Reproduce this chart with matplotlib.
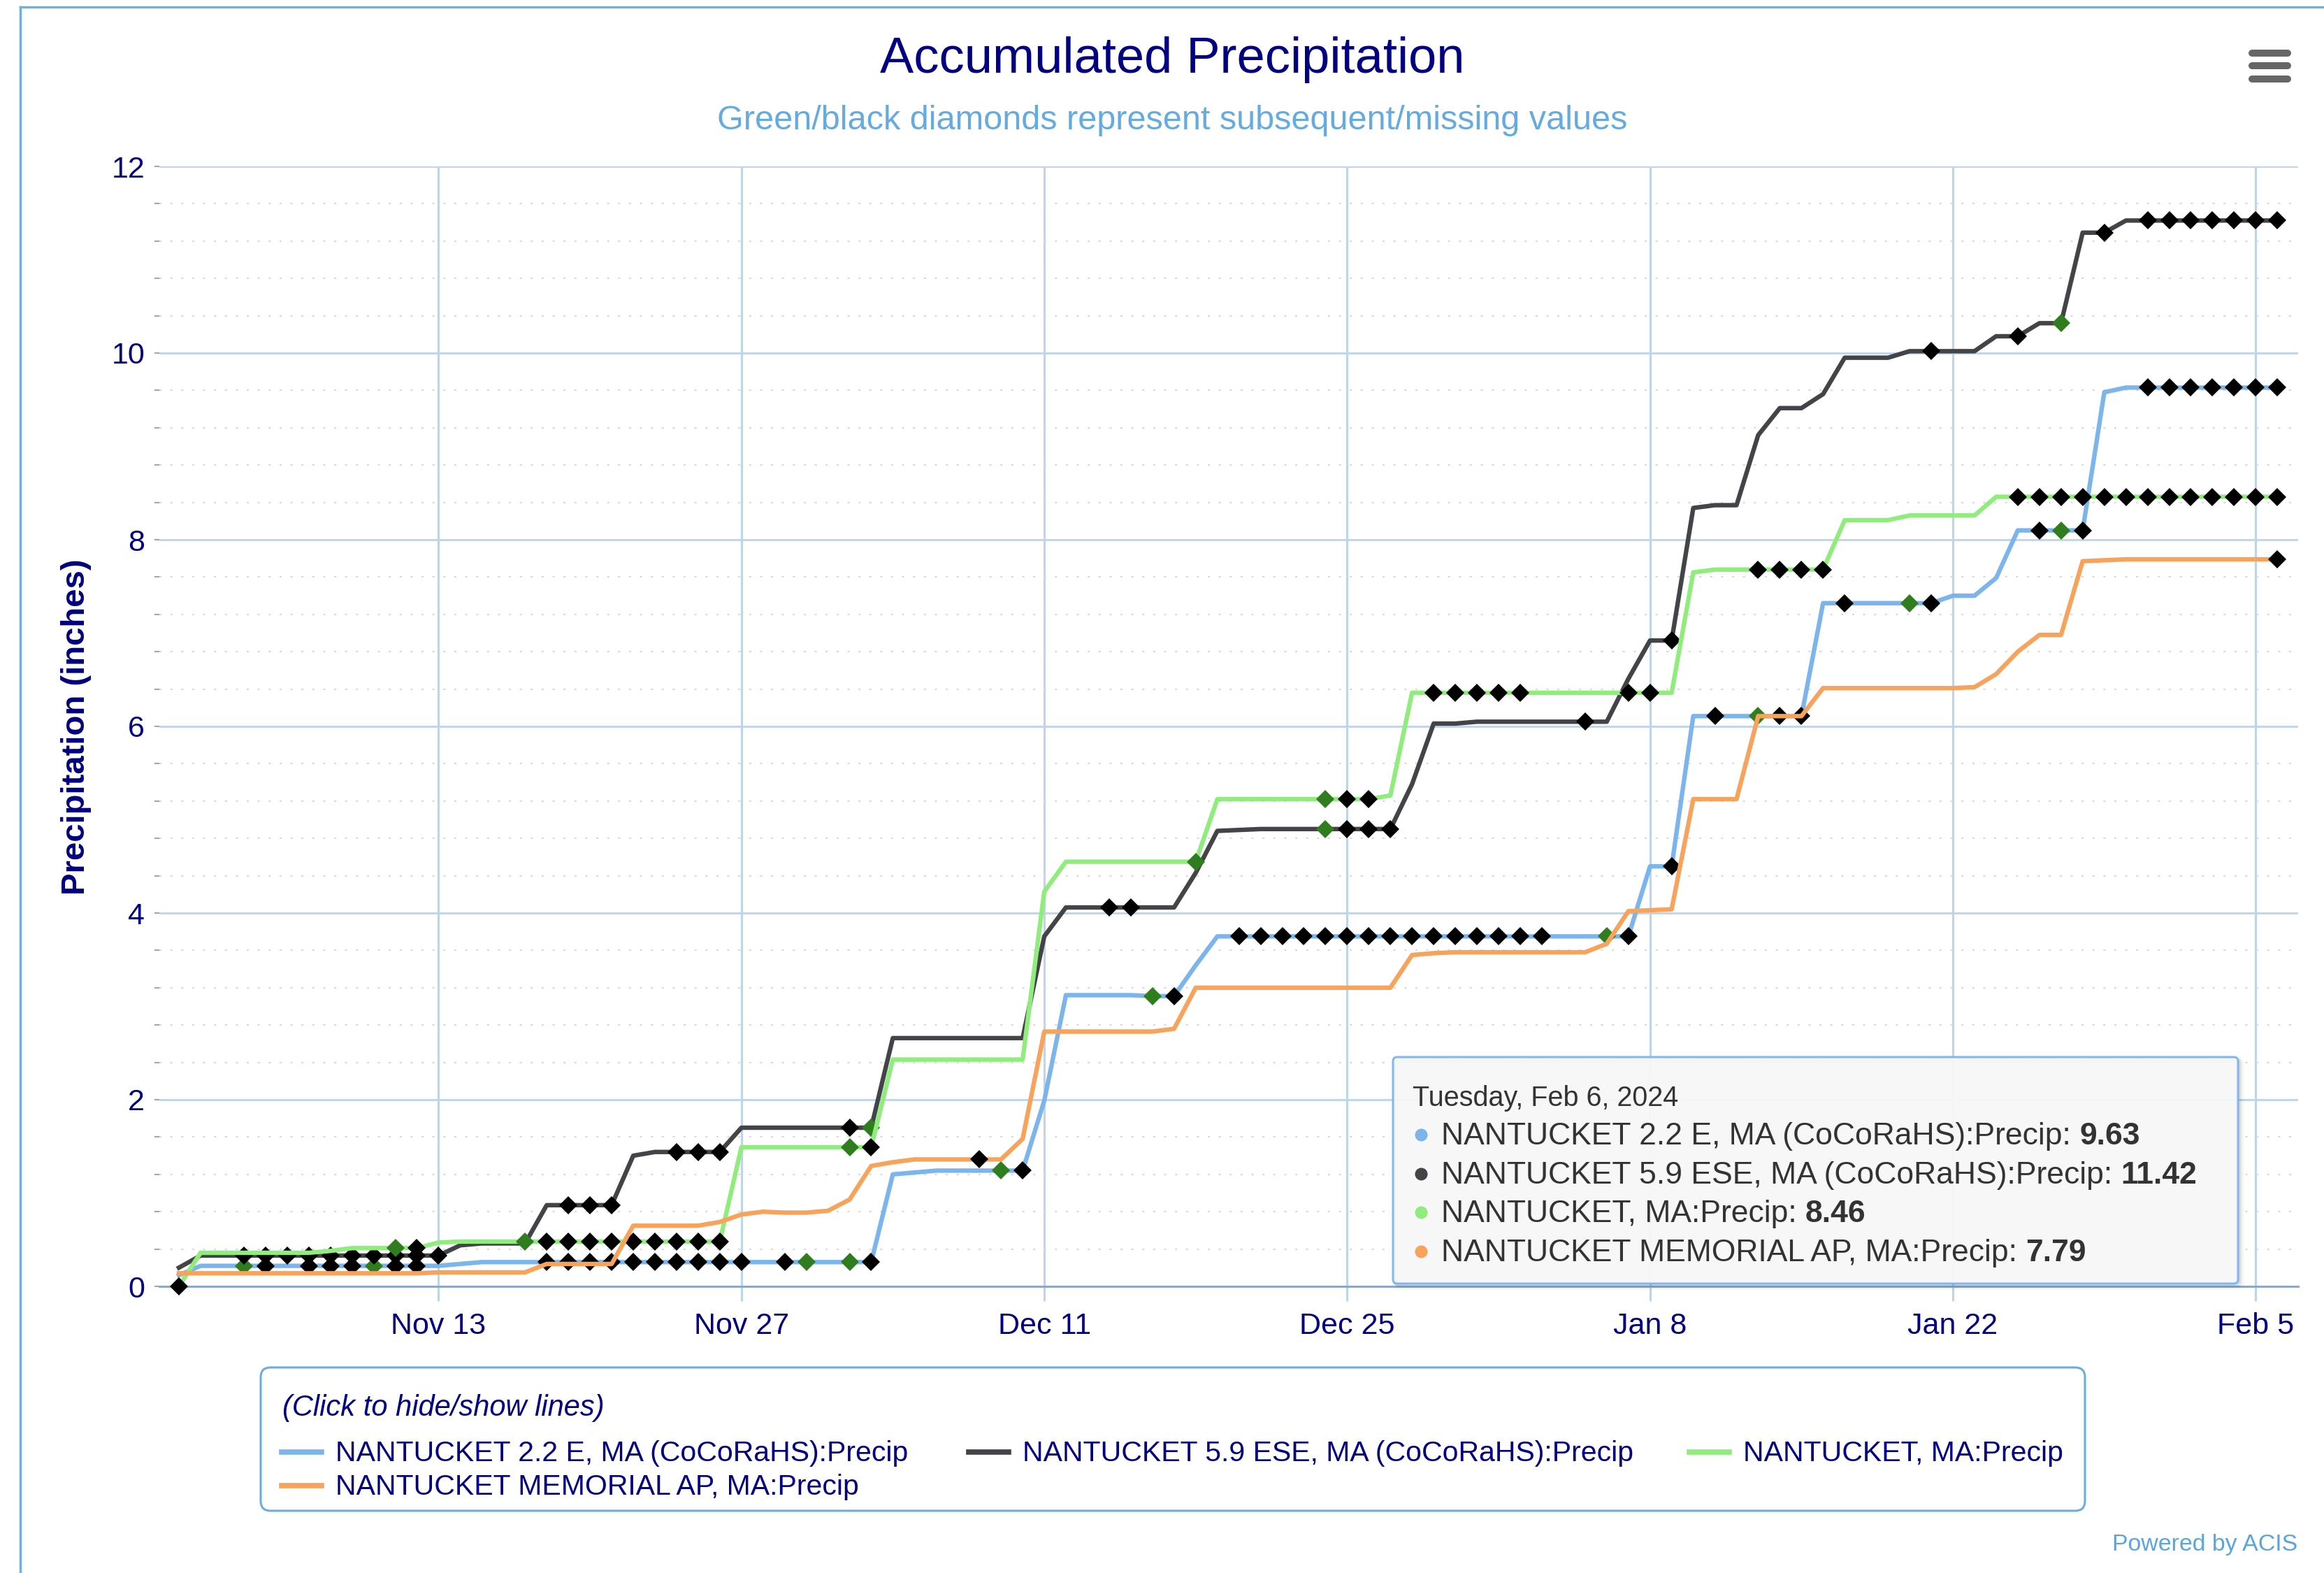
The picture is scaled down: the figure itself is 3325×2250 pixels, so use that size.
import numpy as np
import pandas as pd
import matplotlib
matplotlib.use("Agg")
import matplotlib.pyplot as plt
import matplotlib.dates as mdates
from matplotlib.patches import FancyBboxPatch
from matplotlib.ticker import MultipleLocator

plt.rcParams["font.family"] = ["Liberation Sans", "DejaVu Sans"]

# ---- data: accumulated precip (inches), daily from Nov 1 2023, two weeks per row
START = "2023-11-01"

names = [
    "NANTUCKET 2.2 E, MA (CoCoRaHS):Precip",
    "NANTUCKET 5.9 ESE, MA (CoCoRaHS):Precip",
    "NANTUCKET, MA:Precip",
    "NANTUCKET MEMORIAL AP, MA:Precip",
]
colors = ["#7cb5ec", "#434348", "#90ed7d", "#f7a35c"]

precip_22e = [
    0.12, 0.22, 0.22, 0.22, 0.22, 0.22, 0.22, 0.22, 0.22, 0.22, 0.22, 0.22, 0.22, 0.24,
    0.26, 0.26, 0.26, 0.26, 0.26, 0.26, 0.26, 0.26, 0.26, 0.26, 0.26, 0.26, 0.26, 0.26,
    0.26, 0.26, 0.26, 0.26, 0.26, 1.20, 1.22, 1.24, 1.24, 1.24, 1.24, 1.24, 1.99, 3.12,
    3.12, 3.12, 3.12, 3.11, 3.11, 3.44, 3.75, 3.75, 3.75, 3.75, 3.75, 3.75, 3.75, 3.75,
    3.75, 3.75, 3.75, 3.75, 3.75, 3.75, 3.75, 3.75, 3.75, 3.75, 3.75, 3.75, 4.50, 4.50,
    6.11, 6.11, 6.11, 6.11, 6.11, 6.11, 7.32, 7.32, 7.32, 7.32, 7.32, 7.32, 7.40, 7.40,
    7.59, 8.10, 8.10, 8.10, 8.10, 9.58, 9.63, 9.63, 9.63, 9.63, 9.63, 9.63, 9.63, 9.63,
]
precip_59ese = [
    0.20, 0.33, 0.33, 0.33, 0.33, 0.33, 0.33, 0.33, 0.33, 0.33, 0.33, 0.33, 0.33, 0.44,
    0.46, 0.46, 0.46, 0.87, 0.87, 0.87, 0.87, 1.40, 1.44, 1.44, 1.44, 1.44, 1.70, 1.70,
    1.70, 1.70, 1.70, 1.70, 1.70, 2.66, 2.66, 2.66, 2.66, 2.66, 2.66, 2.66, 3.75, 4.06,
    4.06, 4.06, 4.06, 4.06, 4.06, 4.43, 4.88, 4.89, 4.90, 4.90, 4.90, 4.90, 4.90, 4.90,
    4.90, 5.38, 6.03, 6.03, 6.05, 6.05, 6.05, 6.05, 6.05, 6.05, 6.05, 6.51, 6.92, 6.92,
    8.34, 8.37, 8.37, 9.12, 9.41, 9.41, 9.56, 9.95, 9.95, 9.95, 10.02, 10.02, 10.02, 10.02,
    10.18, 10.18, 10.32, 10.32, 11.29, 11.29, 11.42, 11.42, 11.42, 11.42, 11.42, 11.42, 11.42, 11.42,
]
precip_ma = [
    0.00, 0.36, 0.36, 0.36, 0.36, 0.36, 0.36, 0.38, 0.41, 0.41, 0.41, 0.41, 0.47, 0.48,
    0.48, 0.48, 0.48, 0.48, 0.48, 0.48, 0.48, 0.48, 0.48, 0.48, 0.48, 0.48, 1.49, 1.49,
    1.49, 1.49, 1.49, 1.49, 1.49, 2.43, 2.43, 2.43, 2.43, 2.43, 2.43, 2.43, 4.23, 4.55,
    4.55, 4.55, 4.55, 4.55, 4.55, 4.55, 5.22, 5.22, 5.22, 5.22, 5.22, 5.22, 5.22, 5.22,
    5.26, 6.36, 6.36, 6.36, 6.36, 6.36, 6.36, 6.36, 6.36, 6.36, 6.36, 6.36, 6.36, 6.36,
    7.65, 7.68, 7.68, 7.68, 7.68, 7.68, 7.68, 8.21, 8.21, 8.21, 8.26, 8.26, 8.26, 8.26,
    8.46, 8.46, 8.46, 8.46, 8.46, 8.46, 8.46, 8.46, 8.46, 8.46, 8.46, 8.46, 8.46, 8.46,
]
precip_ap = [
    0.14, 0.14, 0.14, 0.14, 0.14, 0.14, 0.14, 0.14, 0.14, 0.14, 0.14, 0.14, 0.15, 0.15,
    0.15, 0.15, 0.15, 0.24, 0.24, 0.24, 0.24, 0.65, 0.65, 0.65, 0.65, 0.69, 0.77, 0.80,
    0.79, 0.79, 0.81, 0.93, 1.29, 1.33, 1.36, 1.36, 1.36, 1.36, 1.36, 1.58, 2.73, 2.73,
    2.73, 2.73, 2.73, 2.73, 2.76, 3.20, 3.20, 3.20, 3.20, 3.20, 3.20, 3.20, 3.20, 3.20,
    3.20, 3.55, 3.57, 3.58, 3.58, 3.58, 3.58, 3.58, 3.58, 3.58, 3.67, 4.02, 4.03, 4.04,
    5.22, 5.22, 5.22, 6.11, 6.11, 6.11, 6.41, 6.41, 6.41, 6.41, 6.41, 6.41, 6.41, 6.42,
    6.56, 6.80, 6.98, 6.98, 7.77, 7.78, 7.79, 7.79, 7.79, 7.79, 7.79, 7.79, 7.79, 7.79,
]

# day indices flagged as missing (black diamond) / subsequent (green diamond)
missing_22e = [4, 6, 7, 8, 10, 11, 17, 18, 19, 20, 21, 22, 23, 24, 25, 26, 28, 32, 39, 46,
               49, 50, 51, 52, 53, 54, 55, 56, 57, 58, 59, 60, 61, 62, 63, 67, 69, 71, 74,
               75, 77, 81, 86, 88, 91, 92, 93, 94, 95, 96, 97]
subseq_22e = [3, 9, 29, 31, 38, 45, 66, 73, 80, 87]
missing_59ese = [3, 4, 5, 6, 7, 8, 9, 10, 11, 12, 18, 19, 20, 23, 24, 25, 31, 43, 44, 54,
                 55, 56, 65, 69, 81, 85, 89, 91, 92, 93, 94, 95, 96, 97]
subseq_59ese = [32, 53, 87]
missing_ma = [0, 11, 17, 18, 19, 20, 21, 22, 23, 24, 25, 32, 54, 55, 58, 59, 60, 61, 62,
              67, 68, 73, 74, 75, 76, 85, 86, 87, 88, 89, 90, 91, 92, 93, 94, 95, 96, 97]
subseq_ma = [10, 16, 31, 47, 53]
missing_ap = [37, 97]
subseq_ap = []

tick_dates = ["2023-11-13", "2023-11-27", "2023-12-11", "2023-12-25",
              "2024-01-08", "2024-01-22", "2024-02-05"]
tick_labels = ["Nov 13", "Nov 27", "Dec 11", "Dec 25", "Jan 8", "Jan 22", "Feb 5"]

NAVY = "#000080"
GRID = "#bcd4ec"

W, H = 3325, 2250
fig = plt.figure(figsize=(W / 100, H / 100), dpi=100)
fig.patch.set_facecolor("white")

ax = fig.add_axes([228 / W, 1 - 1840 / H, 3060 / W, 1602 / H])
dates = pd.date_range(START, periods=len(precip_22e), freq="D")
x = mdates.date2num(dates)

series = [
    (precip_22e, missing_22e, subseq_22e),
    (precip_59ese, missing_59ese, subseq_59ese),
    (precip_ma, missing_ma, subseq_ma),
    (precip_ap, missing_ap, subseq_ap),
]
for i, (vals, miss, subs) in enumerate(series):
    v = np.asarray(vals)
    z = 3 + i
    ax.plot(x, v, color=colors[i], lw=4.6, solid_joinstyle="round", zorder=z, clip_on=False)
    ax.plot(x[miss], v[miss], ls="none", marker="D", ms=13.5, mew=0, color="black",
            zorder=z + 0.5, clip_on=False)
    ax.plot(x[subs], v[subs], ls="none", marker="D", ms=13.5, mew=0, color="#2f7d1f",
            zorder=z + 0.5, clip_on=False)

ax.set_xlim(x[0] - 0.905, x[0] + 97.96)
ax.set_ylim(0, 12)
ax.set_xticks(mdates.date2num(pd.to_datetime(tick_dates)))
ax.set_xticklabels(tick_labels)
ax.set_yticks(np.arange(0, 13, 2))
ax.yaxis.set_minor_locator(MultipleLocator(0.4))
ax.grid(which="major", axis="y", color=GRID, lw=2)
ax.grid(which="minor", axis="y", color="#d9d9d9", lw=1.5, ls=(0, (1.5, 6)))
ax.grid(which="major", axis="x", color=GRID, lw=2.2)
ax.set_axisbelow(True)
for s in ["left", "right", "top"]:
    ax.spines[s].set_visible(False)
ax.spines["bottom"].set_color("#78afe0")
ax.spines["bottom"].set_linewidth(2.2)
ax.tick_params(axis="x", which="major", length=15, width=2.2, color=GRID,
               labelsize=31, labelcolor=NAVY, pad=12)
ax.tick_params(axis="y", which="both", length=5, width=1.5, color="#a6a6a6",
               labelsize=31, labelcolor=NAVY, pad=10)

# ---- overlay in pixel coordinates for titles, legend, tooltip
ov = fig.add_axes([0, 0, 1, 1], zorder=20)
ov.set_xlim(0, W)
ov.set_ylim(H, 0)
ov.axis("off")

ov.plot([29, 29], [10, H], color="#70b0e0", lw=2.5)
ov.plot([29, W], [10, 10], color="#70b0e0", lw=2.5)

ov.text(1677, 104, "Accumulated Precipitation", ha="center", va="baseline",
        fontsize=52, color=NAVY)
ov.text(1677, 185, "Green/black diamonds represent subsequent/missing values",
        ha="center", va="baseline", fontsize=35, color="#66abe0")
ov.text(109, 1040, "Precipitation (inches)", rotation=90, ha="center", va="center",
        fontsize=34, fontweight="bold", color=NAVY)

for yy in [76, 94, 113]:
    ov.plot([3222, 3273], [yy, yy], color="#666666", lw=7.2, solid_capstyle="round")

# legend
ov.add_patch(FancyBboxPatch((373, 1956), 2610, 205, boxstyle="round,pad=0,rounding_size=14",
                            fc="white", ec="#6aaee0", lw=2.2))
ov.text(404, 2025, "(Click to hide/show lines)", fontsize=30, style="italic",
        color=NAVY, va="baseline")
leg_pos = [(403, 2077), (1386, 2077), (2417, 2077), (403, 2125)]
for (lx, ly), name, c in zip(leg_pos, names, colors):
    ov.plot([lx, lx + 57], [ly, ly], color=c, lw=5.5)
    ov.text(lx + 77, ly + 13, name, fontsize=29.5, color=NAVY, va="baseline")

# tooltip
tx, ty, tw, th = 1993, 1512, 1209, 324
for k, a in [(5, 0.04), (3, 0.07), (1.5, 0.1)]:
    ov.add_patch(FancyBboxPatch((tx + k, ty + k), tw, th,
                                boxstyle="round,pad=0,rounding_size=6",
                                fc="none", ec="black", lw=k, alpha=a))
ov.add_patch(FancyBboxPatch((tx, ty), tw, th, boxstyle="round,pad=0,rounding_size=6",
                            fc="#f7f7f7", ec="#7cb5ec", lw=2.2, alpha=0.95))
ov.text(2021, 1582, dates[-1].strftime("%A, %b ") + str(dates[-1].day) + dates[-1].strftime(", %Y"),
        fontsize=28.5, color="#333333", va="baseline")
for j, (name, c) in enumerate(zip(names, colors)):
    by = 1637 + j * 55.7
    ov.plot([2033], [by - 14], marker="o", ms=13, color=c, mew=0)
    t = ov.text(2062, by, name + ": ", fontsize=32, color="#333333", va="baseline")
    ov.annotate(f"{series[j][0][-1]:.2f}", xy=(1, 0), xycoords=t, va="bottom", ha="left",
                fontsize=32, fontweight="bold", color="#333333")

ov.text(3287, 2218, "Powered by ACIS", ha="right", va="baseline", fontsize=24.4,
        color="#5aa5e0")

fig.savefig("out.png", dpi=100, facecolor="white")
